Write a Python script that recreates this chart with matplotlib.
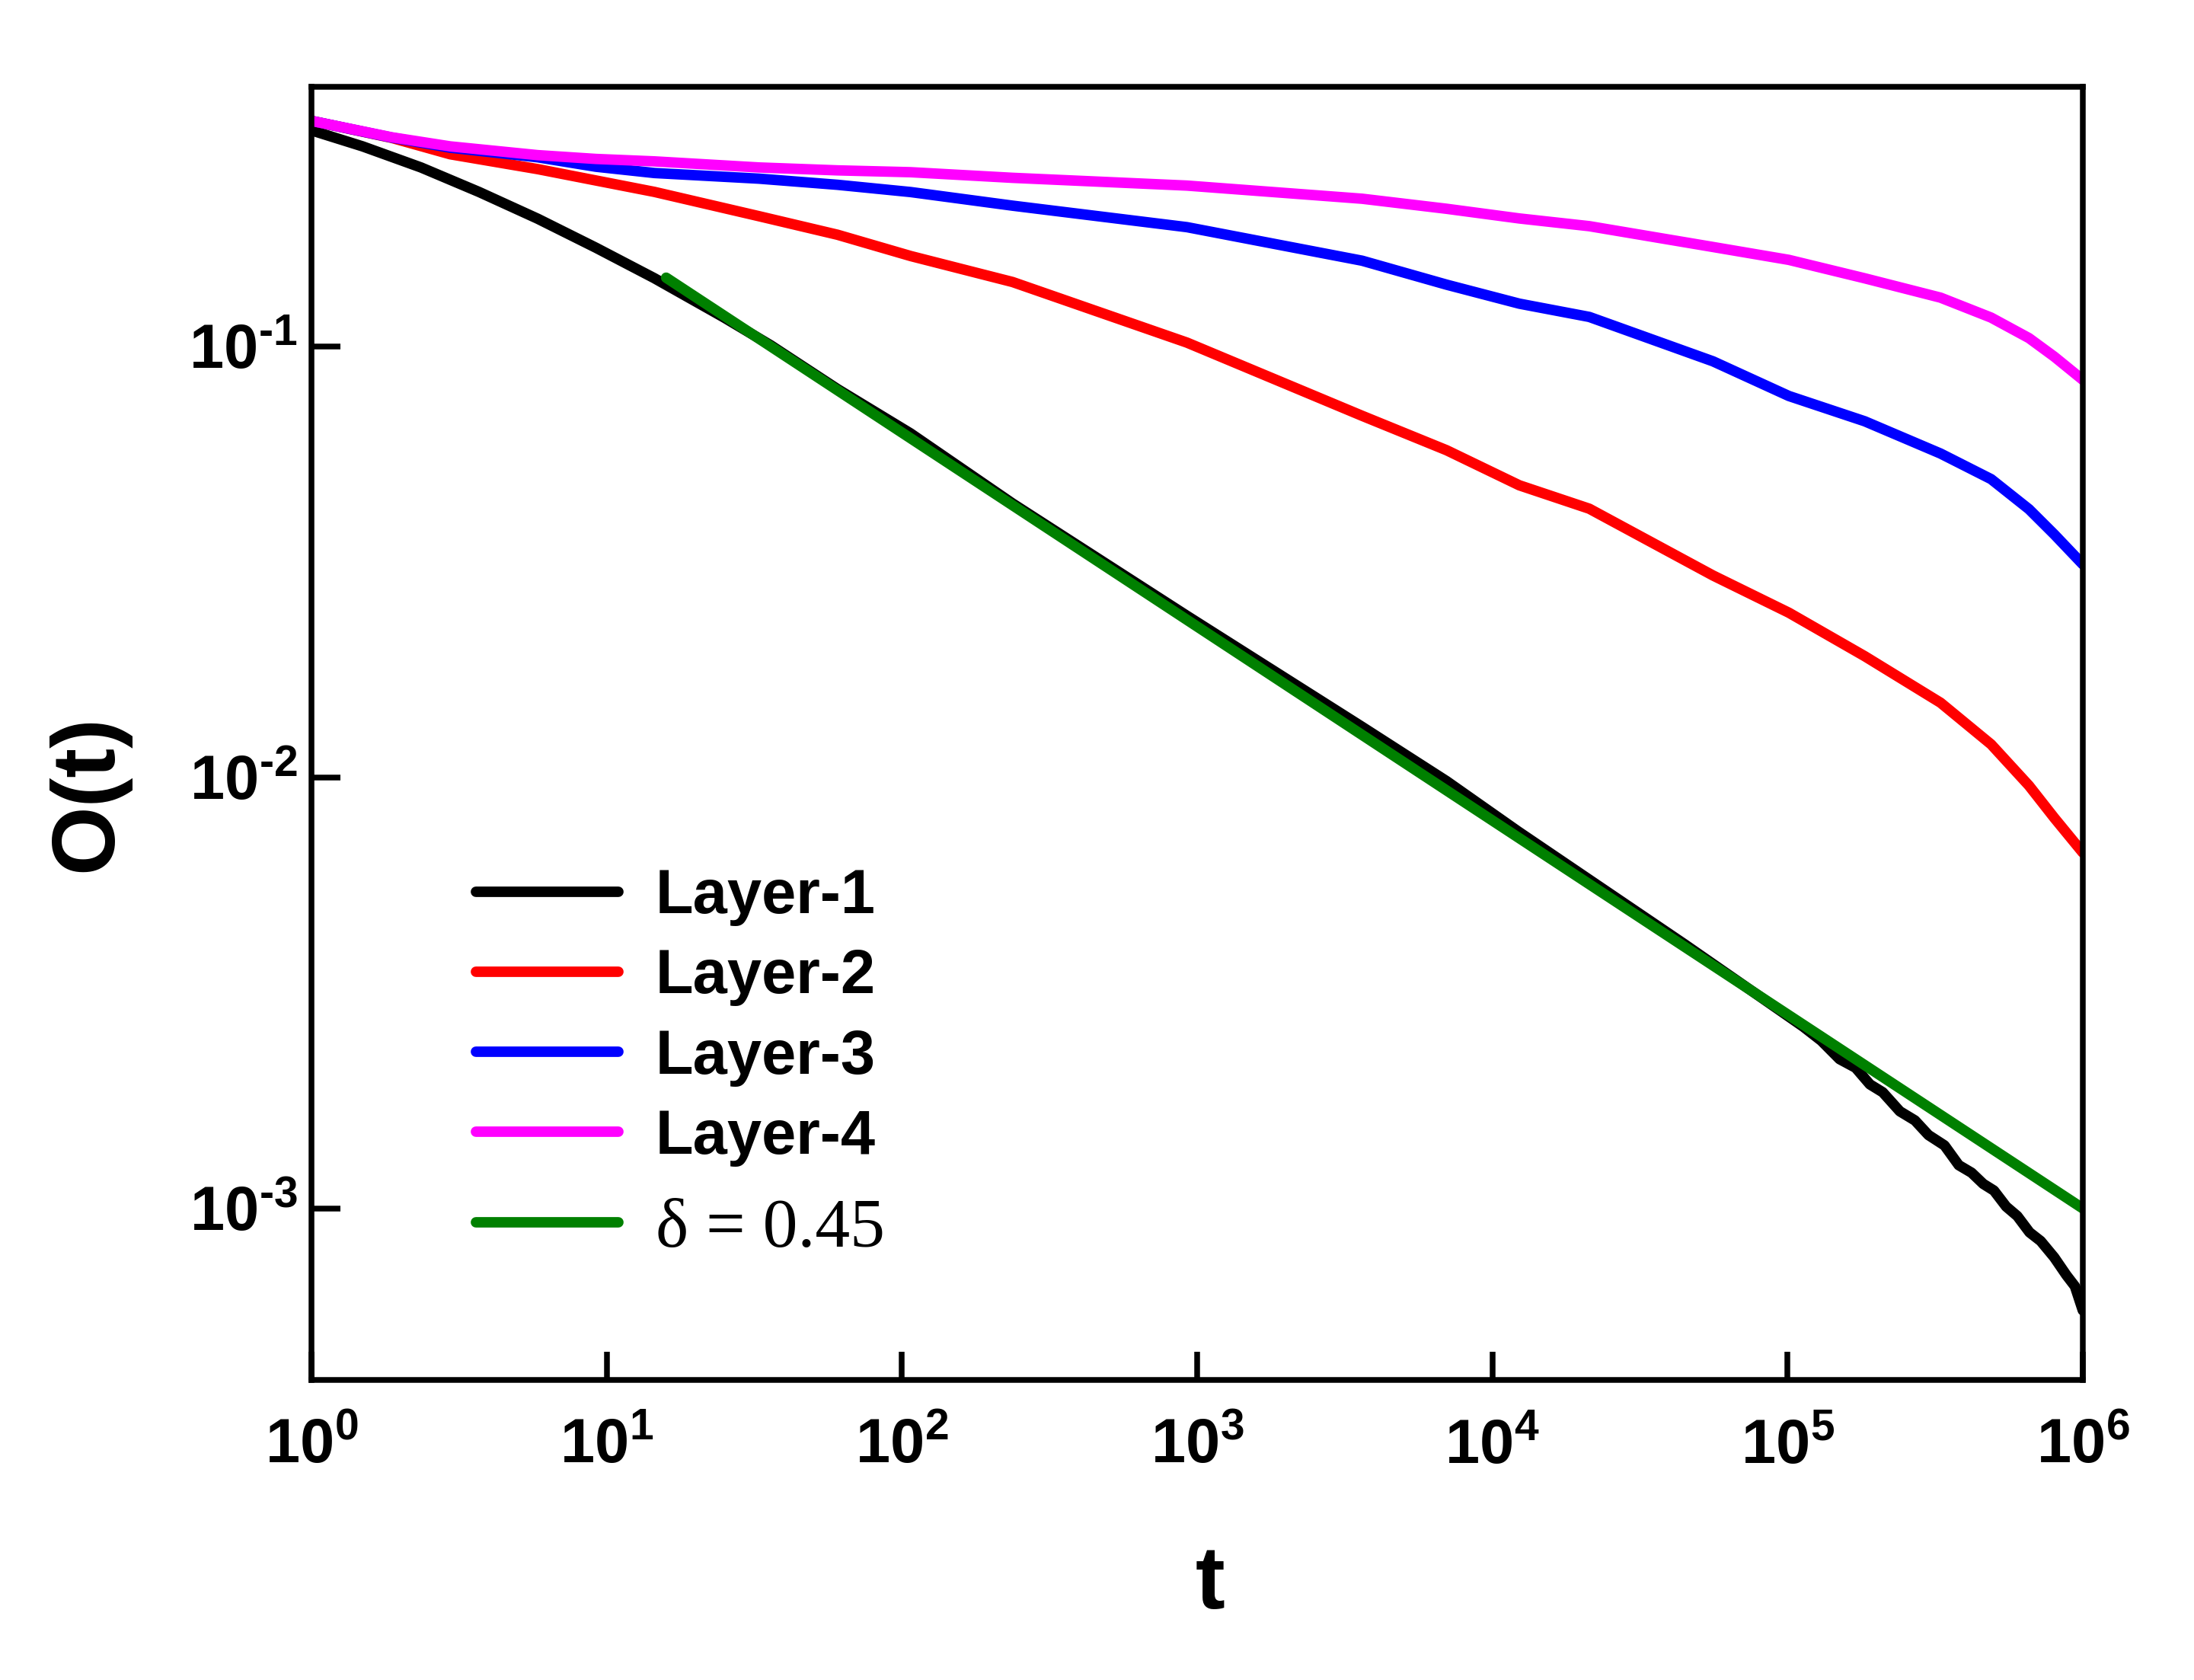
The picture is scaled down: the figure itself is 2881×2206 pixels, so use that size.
import math
import matplotlib
matplotlib.use("Agg")
import matplotlib.pyplot as plt
from matplotlib.ticker import FuncFormatter, LogLocator, NullLocator
from matplotlib.lines import Line2D

plt.rcParams['font.family'] = ['Liberation Sans', 'DejaVu Sans']
plt.rcParams['font.weight'] = 'bold'
plt.rcParams['mathtext.fontset'] = 'custom'
plt.rcParams['mathtext.rm'] = 'Liberation Sans:bold'
plt.rcParams['mathtext.it'] = 'Liberation Sans:bold'
plt.rcParams['mathtext.bf'] = 'Liberation Sans:bold'

# ---------------- data ----------------
t_layer1 = [1, 1.49, 2.35, 3.70, 5.84, 9.2, 14.5, 25, 36, 60.5, 107, 237, 924,
            3620, 7000, 12200, 44800, 113000, 130000, 150000, 170000, 190000,
            210000, 240000, 270000, 300000, 340000, 380000, 420000, 460000,
            500000, 550000, 600000, 660000, 720000, 800000, 880000, 940000,
            1000000]
o_layer1 = [0.317, 0.291, 0.260, 0.228, 0.1977, 0.1693, 0.1439, 0.1166, 0.1005,
            0.0796, 0.0628, 0.0432, 0.0237, 0.0131, 0.0098, 0.0075, 0.0041,
            0.00264, 0.00245, 0.00222, 0.00212, 0.00194, 0.00186, 0.00168,
            0.00160, 0.00148, 0.00140, 0.00126, 0.00121, 0.00114, 0.00110,
            0.00101, 0.00096, 0.00088, 0.00084, 0.00077, 0.00070, 0.00066,
            0.00058]

t_layers = [1, 1.87, 2.95, 5.84, 9.2, 14.5, 32.8, 60.5, 107, 237, 924, 3620,
            7000, 12340, 21300, 55900, 101000, 182600, 329700, 489000, 657000,
            801000, 1000000]
o_layer2 = [0.3335, 0.3045, 0.279, 0.2577, 0.2425, 0.2282, 0.2004, 0.1815,
            0.162, 0.141, 0.102, 0.069, 0.0574, 0.0476, 0.042, 0.0294, 0.0241,
            0.0191, 0.0149, 0.01193, 0.00957, 0.00805, 0.00669]
o_layer3 = [0.3335, 0.305, 0.289, 0.2745, 0.261, 0.2524, 0.2449, 0.237, 0.228,
            0.212, 0.189, 0.158, 0.139, 0.1256, 0.117, 0.0923, 0.0767, 0.0670,
            0.0564, 0.0492, 0.0419, 0.0366, 0.0312]
o_layer4 = [0.3335, 0.3055, 0.291, 0.2777, 0.2721, 0.2686, 0.260, 0.256,
            0.2535, 0.246, 0.236, 0.220, 0.2085, 0.198, 0.190, 0.170, 0.1587,
            0.1438, 0.1297, 0.1166, 0.1045, 0.0946, 0.0836]

t_fit = [15.9, 1000000]
o_fit = [0.1443, 0.001]

labels = ['Layer-1', 'Layer-2', 'Layer-3', 'Layer-4', 'δ = 0.45']
colors = ['#000000', '#FF0000', '#0000FF', '#FF00FF', '#008000']

# ---------------- figure ----------------
fig = plt.figure(figsize=(2881 / 300, 2206 / 300), dpi=300)
ax = fig.add_axes([409 / 2881, 1 - 1812 / 2206, (2735 - 409) / 2881, (1812 - 114) / 2206])

lw = 3.3
series = [(t_layer1, o_layer1), (t_layers, o_layer2), (t_layers, o_layer3),
          (t_layers, o_layer4), (t_fit, o_fit)]
for (tx, oy), c, lab in zip(series, colors, labels):
    ax.plot(tx, oy, color=c, lw=lw, label=lab, solid_capstyle='round',
            solid_joinstyle='round')

ax.set_xscale('log')
ax.set_yscale('log')
ax.set_xlim(1, 1e6)
ax.set_ylim(4.0e-4, 0.4)

ax.xaxis.set_major_locator(LogLocator(base=10, numticks=20))
ax.yaxis.set_major_locator(LogLocator(base=10, numticks=20))
ax.xaxis.set_minor_locator(NullLocator())
ax.yaxis.set_minor_locator(NullLocator())


def sci(v, p):
    e = int(round(math.log10(v)))
    if e < 0:
        return r'$\mathbf{10^{\text{-}%d}}$' % (-e)
    return r'$\mathbf{10^{%d}}$' % e


fmt = FuncFormatter(sci)
ax.xaxis.set_major_formatter(fmt)
ax.yaxis.set_major_formatter(fmt)

ax.tick_params(which='major', direction='in', length=9, width=1.8,
               labelsize=19.5, top=False, right=False)
ax.tick_params(axis='x', pad=12)
ax.tick_params(axis='y', pad=4.5)

for s in ax.spines.values():
    s.set_linewidth(1.8)

ax.set_xlabel('t', fontsize=28, fontweight='bold', ha='center', va='center')
ax.xaxis.set_label_coords(0.5073, -0.159)
ax.set_ylabel('O(t)', fontsize=28, fontweight='bold', ha='center', va='center')
ax.yaxis.set_label_coords(-0.126, 0.4535)

leg_handles = [Line2D([0], [0], color=c, lw=lw, solid_capstyle='round') for c in colors]
leg1 = ax.legend(leg_handles[:4], labels[:4], loc='center left',
                 bbox_to_anchor=(0.0929, 0.2803), frameon=False, fontsize=19.5,
                 handlelength=2.3, handletextpad=0.6, labelspacing=0.36,
                 borderpad=0, borderaxespad=0)
for txt in leg1.get_texts():
    txt.set_fontweight('bold')
ax.add_artist(leg1)
leg2 = ax.legend(leg_handles[4:], labels[4:], loc='center left',
                 bbox_to_anchor=(0.0929, 0.1166), frameon=False,
                 prop={'family': ['Liberation Serif', 'DejaVu Serif'],
                       'weight': 'normal', 'size': 22},
                 handlelength=2.3 * 19.5 / 22, handletextpad=0.6 * 19.5 / 22,
                 borderpad=0, borderaxespad=0)

fig.savefig('out.png', dpi=300, facecolor='white')
